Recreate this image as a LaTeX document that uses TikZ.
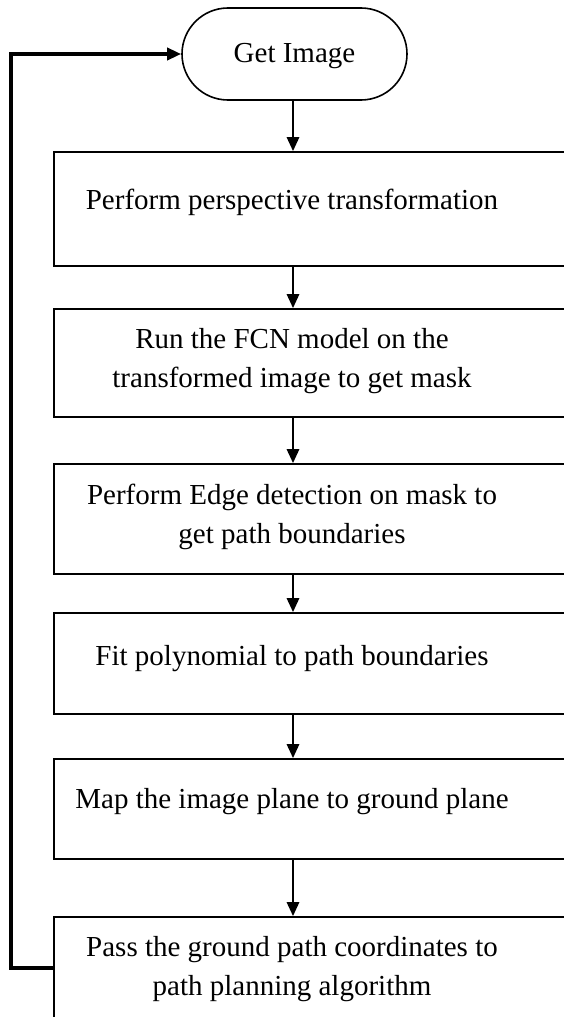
\documentclass[tikz,border=0pt]{standalone}
\usepackage{fontspec}
\setmainfont{Liberation Serif}
\usetikzlibrary{arrows.meta}
\begin{document}
\begin{tikzpicture}[x=1pt,y=-1pt,
  stepbox/.style={draw, line width=1.6pt, minimum width=546pt, inner sep=0pt},
  term/.style={draw, line width=1.6pt, rounded corners=46pt, minimum width=225pt, minimum height=92pt, inner sep=0pt},
  txt/.style={font=\fontsize{29}{39}\selectfont, align=center, inner sep=0pt, anchor=base},
  arr/.style={line width=2.8pt, -{Triangle[length=14pt,width=12pt]}},
  looparr/.style={line width=3.4pt, -{Triangle[length=14pt,width=12pt]}}]
\useasboundingbox (0,0) rectangle (564,1017);
\clip (0,0) rectangle (564,1017);

\node[term] (t) at (294.5,54) {};
\node[txt] (tt) at (294.5,62) {Get Image};

\node[stepbox, minimum height=114pt] (b1) at (327,209) {};
\node[txt] (t1) at (292,209) {Perform perspective transformation};

\node[stepbox, minimum height=108pt] (b2) at (327,363) {};
\node[txt] (t2) at (292,387) {Run the FCN model on the\\transformed image to get mask};

\node[stepbox, minimum height=110pt] (b3) at (327,519) {};
\node[txt] (t3) at (292,543) {Perform Edge detection on mask to\\get path boundaries};

\node[stepbox, minimum height=101pt] (b4) at (327,663.5) {};
\node[txt] (t4) at (292,665) {Fit polynomial to path boundaries};

\node[stepbox, minimum height=100pt] (b5) at (327,809) {};
\node[txt] (t5) at (292,808) {Map the image plane to ground plane};

\node[stepbox, minimum height=102pt] (b6) at (327,968) {};
\node[txt] (t6) at (292,995) {Pass the ground path coordinates to\\path planning algorithm};

\coordinate (ax) at (293,0);
\draw[arr] (t.south -| ax) -- (b1.north -| ax);
\draw[arr] (b1.south -| ax) -- (b2.north -| ax);
\draw[arr] (b2.south -| ax) -- (b3.north -| ax);
\draw[arr] (b3.south -| ax) -- (b4.north -| ax);
\draw[arr] (b4.south -| ax) -- (b5.north -| ax);
\draw[arr] (b5.south -| ax) -- (b6.north -| ax);

\coordinate (lc) at (11,968);
\draw[looparr] (b6.west) -- (lc) |- (t.west);
\end{tikzpicture}
\end{document}
